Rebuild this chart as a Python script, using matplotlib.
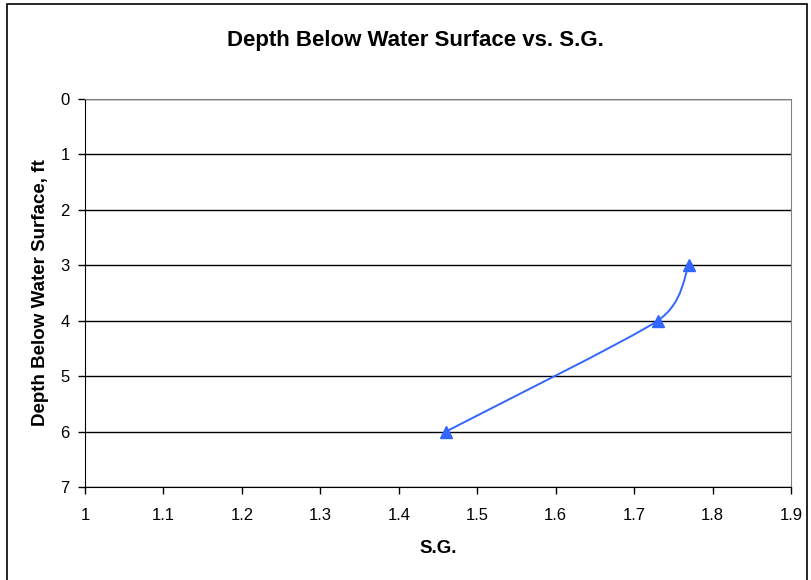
import numpy as np
import matplotlib.pyplot as plt
from matplotlib.path import Path
from matplotlib.patches import PathPatch, Rectangle

# Datos
sg = [1.46, 1.73, 1.77]
depth = [6, 4, 3]
x_ticks = [1, 1.1, 1.2, 1.3, 1.4, 1.5, 1.6, 1.7, 1.8, 1.9]
x_labels = ['1', '1.1', '1.2', '1.3', '1.4', '1.5', '1.6', '1.7', '1.8', '1.9']
y_ticks = [0, 1, 2, 3, 4, 5, 6, 7]

color = '#3366FF'
plt.rcParams['font.family'] = ['Liberation Sans', 'DejaVu Sans']

fig = plt.figure(figsize=(8.11, 5.8), dpi=100)
ax = fig.add_axes([0.1048, 0.1603, 0.8705, 0.669])
ax.set_xlim(1, 1.9)
ax.set_ylim(7, 0)


def excel_smooth(ax, xs, ys):
    # curva suavizada al estilo Excel, calculada en pixeles
    pts = ax.transData.transform(np.column_stack([xs, ys]))
    ext = np.vstack([pts[0], pts, pts[-1]])
    verts = [pts[0]]
    codes = [Path.MOVETO]
    for i in range(1, len(ext) - 2):
        p0, p1, p2, p3 = ext[i - 1], ext[i], ext[i + 1], ext[i + 2]
        d12 = np.linalg.norm(p2 - p1)
        tangents = []
        for a, b, c in ((p0, p1, p2), (p1, p2, p3)):
            d = np.linalg.norm(c - a)
            f = 1 / 6
            lim = min(np.linalg.norm(b - a) if np.linalg.norm(b - a) > 0 else d12,
                      np.linalg.norm(c - b) if np.linalg.norm(c - b) > 0 else d12) / 2
            if d > 0 and d * f > lim:
                f = lim / d
            tangents.append((c - a) * f)
        verts += [p1 + tangents[0], p2 - tangents[1], p2]
        codes += [Path.CURVE4] * 3
    verts = ax.transData.inverted().transform(np.array(verts))
    return Path(verts, codes)


ax.add_patch(PathPatch(excel_smooth(ax, sg, depth), facecolor='none', edgecolor=color,
                       lw=1.4, zorder=3))
ax.plot(sg, depth, linestyle='none', marker='^', markersize=8, color=color, zorder=4)

ax.set_xticks(x_ticks)
ax.set_xticklabels(x_labels)
ax.set_yticks(y_ticks)
ax.grid(axis='y', color='black', lw=1)
ax.set_axisbelow(True)
ax.tick_params(direction='out', length=5, width=1, color='black', labelsize=12)
ax.tick_params(axis='x', pad=10)
ax.tick_params(axis='y', pad=6)

for s in ['top', 'right']:
    ax.spines[s].set_color('#808080')
for s in ['left', 'bottom']:
    ax.spines[s].set_color('black')

ax.set_xlabel('S.G.', fontsize=13.5, fontweight='bold', labelpad=12)
ax.set_ylabel('Depth Below Water Surface, ft', fontsize=13.5, fontweight='bold', labelpad=8)
fig.text(0.512, 0.931, 'Depth Below Water Surface vs. S.G.', ha='center', va='center',
         fontsize=16, fontweight='bold')

# Borde del area del grafico
fig.patches.append(Rectangle((0.009, -0.1), 0.986, 1.093, transform=fig.transFigure,
                             fill=False, edgecolor='black', lw=1.2))

fig.savefig('out.png', dpi=100)
